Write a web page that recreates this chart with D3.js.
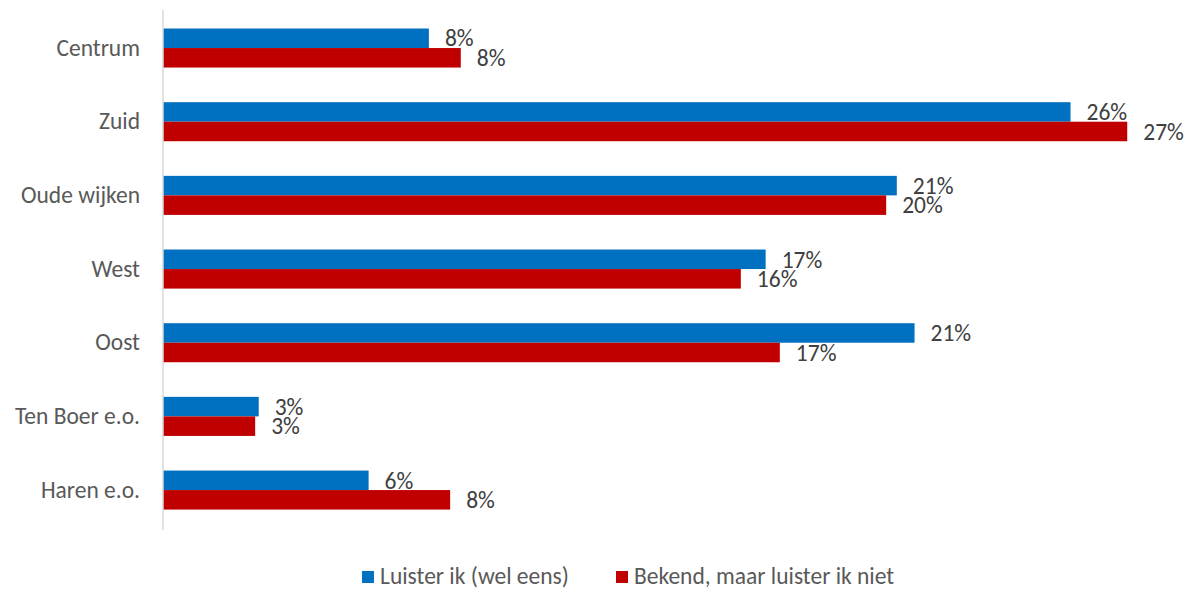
<!DOCTYPE html>
<html lang="nl">
<head>
    <meta charset="UTF-8">
    <title>Luisteren per wijk</title>
    <script src="https://d3js.org/d3.v7.min.js"></script>
    <style>
        body { margin: 0; background: #fff; }
        text { font-family: Calibri, Carlito, Lato, "Open Sans", sans-serif; }
    </style>
</head>
<body>
    <div id="chart-container"></div>

    <script>
        // Data (percent)
        const categories = ["Centrum", "Zuid", "Oude wijken", "West", "Oost", "Ten Boer e.o.", "Haren e.o."];
        const seriesNames = ["Luister ik (wel eens)", "Bekend, maar luister ik niet"];
        const luisterIk = [7.5, 25.6, 20.7, 17.0, 21.2, 2.7, 5.8];
        const bekendNiet = [8.4, 27.2, 20.4, 16.3, 17.4, 2.6, 8.1];
        const colors = ["#0070C0", "#C00000"];

        const width = 1188;
        const height = 589;
        const fontSize = "23.5px";

        const svg = d3.select("#chart-container")
            .append("svg")
            .attr("width", width)
            .attr("height", height);

        // Scales
        const xScale = d3.scaleLinear()
            .domain([0, 30])
            .range([163, 163 + 35.45 * 30]);

        const yScale = d3.scaleBand()
            .domain(categories)
            .range([11.2, 526.9])
            .paddingInner(0.47)
            .paddingOuter(0.235);

        const inner = d3.scaleBand()
            .domain([0, 1])
            .range([0, yScale.bandwidth()]);

        const series = [luisterIk, bekendNiet];

        // Bars
        series.forEach((values, s) => {
            const rows = categories.map((c, i) => ({ cat: c, value: values[i] }));

            svg.selectAll(".bar-" + s)
                .data(rows)
                .enter()
                .append("rect")
                .attr("class", "bar-" + s)
                .attr("x", xScale(0))
                .attr("y", d => yScale(d.cat) + inner(s))
                .attr("width", d => xScale(d.value) - xScale(0))
                .attr("height", inner.bandwidth())
                .attr("fill", colors[s]);

            // Value labels
            svg.selectAll(".label-" + s)
                .data(rows)
                .enter()
                .append("text")
                .attr("class", "label-" + s)
                .attr("x", d => xScale(d.value) + 16)
                .attr("y", d => yScale(d.cat) + inner(s) + inner.bandwidth() / 2)
                .attr("dy", "0.35em")
                .attr("fill", "#404040")
                .style("font-size", fontSize)
                .text(d => Math.round(d.value) + "%");
        });

        // Category axis
        const yAxis = svg.append("g")
            .attr("transform", `translate(${xScale(0)},0)`)
            .call(d3.axisLeft(yScale).tickSize(0).tickPadding(23));

        yAxis.select(".domain")
            .attr("d", "M0,10V530")
            .attr("stroke", "#d9d9d9")
            .attr("stroke-width", 1.5);

        yAxis.selectAll(".tick text")
            .attr("fill", "#595959")
            .style("font-size", fontSize)
            .style("font-family", "Calibri, Carlito, Lato, 'Open Sans', sans-serif");

        // Legend
        const legendX = [362, 616];
        const legend = svg.selectAll(".legend")
            .data(seriesNames)
            .enter()
            .append("g")
            .attr("class", "legend")
            .attr("transform", (d, i) => `translate(${legendX[i]},576)`);

        legend.append("rect")
            .attr("x", 0)
            .attr("y", -5)
            .attr("width", 12)
            .attr("height", 12)
            .attr("fill", (d, i) => colors[i]);

        legend.append("text")
            .attr("x", 18)
            .attr("dy", "0.35em")
            .attr("fill", "#595959")
            .style("font-size", fontSize)
            .text(d => d);
    </script>
</body>
</html>
